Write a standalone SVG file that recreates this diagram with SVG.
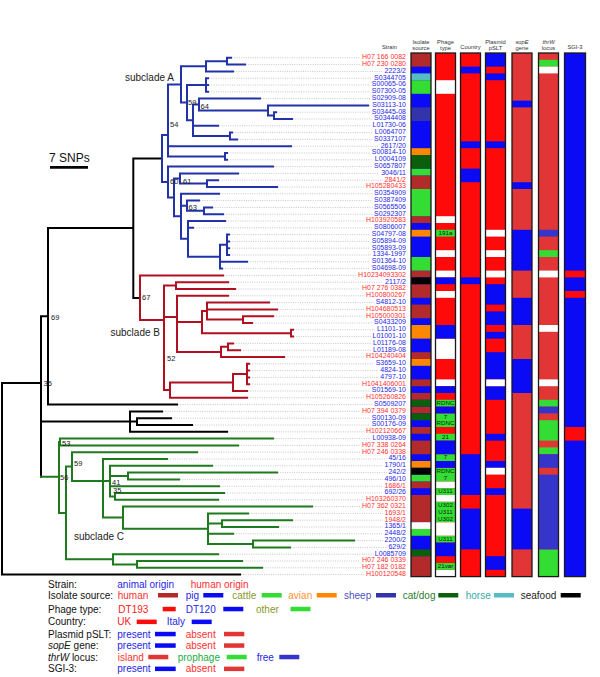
<svg xmlns="http://www.w3.org/2000/svg" width="600" height="677" viewBox="0 0 600 677">
<style>
text{font-family:"Liberation Sans",Arial,sans-serif}
.tr{fill:none;stroke-width:2;stroke-linecap:square}
.ta{stroke:#2233aa}.tb{stroke:#b01020}.tc{stroke:#1d7a1d}.tk{stroke:#000}
.dot{fill:none;stroke:#b8b8b8;stroke-width:0.8;stroke-dasharray:1 1.3}
.sr{fill:#ff3030;font-size:7px}.sb{fill:#2626e6;font-size:7px}
.bs{fill:#222;font-size:7.5px}
.hd{fill:#333;font-size:5.8px;text-anchor:middle}
.pl{fill:#112211;font-size:6.2px;text-anchor:middle}
.lg{font-size:10px}
.hu{fill:#b22a2a}.pg{fill:#0a0af5}.ca{fill:#33dd33}.av{fill:#ff8800}.sh{fill:#3333aa}.cd{fill:#0b5e0b}.ho{fill:#55bcc4}.sf{fill:#000}.wh{fill:#fff}.rd{fill:#ff0a0a}.er{fill:#e23636}.fr{fill:#3535cc}
.ol{fill:none;stroke:#1a1a1a;stroke-width:1.3}
</style>
<rect width="600" height="677" fill="#fff"/>

<g id="connectors">
<path class="dot" d="M232,57.8H360.5M246,64.6H360.5M234,71.4H383M209,78.2H372.6M209,85H370.3M209,91.8H370.3M261,98.6H370.3M369,105.4H370.3M277,112.2H370.3M293,119H372.6M219,125.8H371M233,132.6H373.4M238,139.4H372.6M292,146.2H379.2M228,153H370.3M228,159.8H373.4M274,166.6H372.6M239,173.4H379.2M219,180.2H383M278,187H364.4M220,193.8H372.6M200,200.6H372.6M213,207.4H372.6M224,214.2H372.6M226,221H364.4M194,227.8H372.6M230,234.6H370.3M230,241.4H370.3M230,248.2H370.3M230,255H371M248,261.8H370.3M223,268.6H370.3M224,275.4H356.6M229,282.2H383M236,289H360.5M229,295.8H364.4M270,302.6H374.1M278,309.4H364.4M274,316.2H364.4M253,323H372.6M294,329.8H374.9M294,336.6H371M234,343.4H371M241,350.2H371M285,357H364.4M250,363.8H374.1M250,370.6H378.8M250,377.4H378.8M250,384.2H360.5M248,391H370.3M248,397.8H364.4M178,404.6H372.6M163,411.4H360.5M172,418.2H370.3M193,425H370.3M228,431.8H364.4M274,438.6H371M239,445.4H360.5M198,452.2H360.5M168,459H387M213,465.8H383M278,472.6H387M180,479.4H383M220,486.2H383M225,493H383M219,499.8H364.4M313,506.6H360.5M249,513.4H383M293,520.2H383M279,527H383M234,533.8H383M355,540.6H383M291,547.4H387M219,554.2H373.4M243,561H360.5M263,567.8H360.5M241,574.6H364.4"/>
<path class="tr tk" d="M133.3,158.5V298M133.3,158.5H162M133.3,298H140M48,228V404.6M48,228H133.3M48,404.6H177M41,316.3V476.7M41,316.3H48M41,421.6H130M130,411.4V431.8M130,411.4H162M130,421.6H137M130,431.8H227M137,418.2V425M137,418.2H171M137,425H192M2,383V574.6M2,383H41M2,574.6H240"/>
<path class="tr ta" d="M162,135V182M162,135H168M162,182H168M168,84.5V156.4M168,84.5H181M168,146.2H291M168,156.4H225M225,153V159.8M225,153H227M225,159.8H227M181,66.3V102.6M181,66.3H206M181,102.6H187M206,61.2V71.4M206,61.2H227M206,71.4H233M227,57.8V64.6M227,57.8H231M227,64.6H245M187,85V120.3M187,85H206M187,120.3H193M206,78.2V91.8M206,78.2H208M206,85H208M206,91.8H208M193,104.55V136M193,104.55H199M193,125.8H218M193,136H230M230,132.6V139.4M230,132.6H232M230,139.4H237M199,98.6V110.5M199,98.6H260M199,110.5H268M268,105.4V115.6M268,105.4H368M268,115.6H274M274,112.2V119M274,112.2H276M274,119H292M168,166.6V197.4M168,166.6H273M168,197.4H174M174,178.5V216.3M174,178.5H180M174,216.3H181M180,173.4V183.6M180,173.4H238M180,183.6H207M207,180.2V187M207,180.2H218M207,187H277M181,193.8V238.8M181,193.8H219M181,205.7H187M181,238.8H188M187,200.6V210.8M187,200.6H199M187,210.8H204M204,207.4V214.2M204,207.4H212M204,214.2H223M188,221V256.7M188,221H225M188,227.8H193M188,256.7H220M220,244.8V268.6M220,244.8H227M220,261.8H247M220,268.6H222M227,234.6V255M227,234.6H229M227,241.4H229M227,248.2H229M227,255H229"/>
<path class="tr tb" d="M140,275.4V320M140,275.4H223M140,320H164M164,285.6V390M164,285.6H176M164,317H177M164,390H170M176,282.2V289M176,282.2H228M176,289H235M177,295.8V352M177,295.8H228M177,322H202M177,352H221M202,311V333.2M202,311H207M202,333.2H291M207,302.6V319.6M207,302.6H269M207,309.4H277M207,319.6H243M243,316.2V323M243,316.2H273M243,323H252M291,329.8V336.6M291,329.8H293M291,336.6H293M221,346.8V357M221,346.8H228M221,357H284M228,343.4V350.2M228,343.4H233M228,350.2H240M170,382.5V397.8M170,382.5H233M170,397.8H247M233,374V391M233,374H247M233,391H247M247,363.8V384.2M247,363.8H249M247,370.6H249M247,377.4H249M247,384.2H249"/>
<path class="tr tc" d="M41,476.7H59M59,442V513M59,442H60M59,513H66M60,438.6V445.4M60,438.6H273M60,445.4H238M66,466.6V559.3M66,466.6H72M66,559.3H113M72,452.2V481M72,452.2H197M72,481H103M103,459V517.6M103,459H167M103,481H110M103,517.6H123M110,465.8V496.4M110,465.8H212M110,476H128M110,486.2H219M110,496.4H115M128,472.6V479.4M128,472.6H277M128,479.4H179M115,493V499.8M115,493H224M115,499.8H218M123,506.6V528.7M123,506.6H312M123,528.7H208M208,513.4V544M208,513.4H248M208,523.6H222M208,533.8H233M208,544H253M222,520.2V527M222,520.2H292M222,527H278M253,540.6V547.4M253,540.6H354M253,547.4H290M113,554.2V564.4M113,554.2H218M113,564.4H137M137,561V567.8M137,561H242M137,567.8H262"/>
</g>

<g id="tree-labels">
<text class="lg" x="125" y="80.5" fill="#222">subclade A</text>
<text class="lg" x="110.5" y="335.5" fill="#222">subclade B</text>
<text class="lg" x="74" y="540" fill="#222">subclade C</text>
<text class="bs" x="188" y="105">59</text>
<text class="bs" x="200.5" y="108.5">64</text>
<text class="bs" x="170" y="126.5">54</text>
<text class="bs" x="170" y="183.5">60</text>
<text class="bs" x="183" y="183.5">61</text>
<text class="bs" x="188.5" y="210">63</text>
<text class="bs" x="142" y="300">67</text>
<text class="bs" x="51" y="320">69</text>
<text class="bs" x="167" y="361">52</text>
<text class="bs" x="43.5" y="386">35</text>
<text class="bs" x="62" y="446">53</text>
<text class="bs" x="74" y="466">59</text>
<text class="bs" x="60" y="479.5">56</text>
<text class="bs" x="112" y="485">41</text>
<text class="bs" x="113" y="492.5">35</text>
</g>

<g id="scale-bar">
<text x="49" y="162" font-size="12" fill="#111">7 SNPs</text>
<line x1="50" y1="167.3" x2="88" y2="167.3" stroke="#000" stroke-width="2.7"/>
</g>

<g id="headers">
<text class="hd" x="389.5" y="48.8">Strain</text>
<text class="hd" x="421" y="44.3">Isolate</text><text class="hd" x="421" y="49.5">source</text>
<text class="hd" x="445.5" y="44.3">Phage</text><text class="hd" x="445.5" y="49.5">type</text>
<text class="hd" x="470.5" y="48.8">Country</text>
<text class="hd" x="495.5" y="44.3">Plasmid</text><text class="hd" x="495.5" y="49.5">pSLT</text>
<text class="hd" x="522" y="44.3" font-style="italic">sopE</text><text class="hd" x="522" y="49.5">gene</text>
<text class="hd" x="548.5" y="44.3" font-style="italic">thrW</text><text class="hd" x="548.5" y="49.5">locus</text>
<text class="hd" x="575" y="48.8">SGI-3</text>
</g>

<g id="strains" text-anchor="end">
<text class="sr" x="406" y="59.1">H07 166 0082</text>
<text class="sr" x="406" y="65.9">H07 230 0280</text>
<text class="sb" x="406" y="72.7">2223/2</text>
<text class="sb" x="406" y="79.5">S0344705</text>
<text class="sb" x="406" y="86.3">S00065-06</text>
<text class="sb" x="406" y="93.1">S07300-05</text>
<text class="sb" x="406" y="99.9">S02909-08</text>
<text class="sb" x="406" y="106.7">S03113-10</text>
<text class="sb" x="406" y="113.5">S03445-08</text>
<text class="sb" x="406" y="120.3">S0344408</text>
<text class="sb" x="406" y="127.1">L01730-06</text>
<text class="sb" x="406" y="133.9">L0064707</text>
<text class="sb" x="406" y="140.7">S0337107</text>
<text class="sb" x="406" y="147.5">2617/20</text>
<text class="sb" x="406" y="154.3">S00814-10</text>
<text class="sb" x="406" y="161.1">L0004109</text>
<text class="sb" x="406" y="167.9">S0657807</text>
<text class="sb" x="406" y="174.7">3046/11</text>
<text class="sr" x="406" y="181.5">2841/2</text>
<text class="sr" x="406" y="188.3">H105280433</text>
<text class="sb" x="406" y="195.1">S0354909</text>
<text class="sb" x="406" y="201.9">S0387409</text>
<text class="sb" x="406" y="208.7">S0565506</text>
<text class="sb" x="406" y="215.5">S0292307</text>
<text class="sr" x="406" y="222.3">H103920583</text>
<text class="sb" x="406" y="229.1">S0806007</text>
<text class="sb" x="406" y="235.9">S04797-08</text>
<text class="sb" x="406" y="242.7">S05894-09</text>
<text class="sb" x="406" y="249.5">S05893-09</text>
<text class="sb" x="406" y="256.3">1334-1997</text>
<text class="sb" x="406" y="263.1">S01364-10</text>
<text class="sb" x="406" y="269.9">S04698-09</text>
<text class="sr" x="406" y="276.7">H10234093302</text>
<text class="sb" x="406" y="283.5">2117/2</text>
<text class="sr" x="406" y="290.3">H07 276 0382</text>
<text class="sr" x="406" y="297.1">H100800267</text>
<text class="sb" x="406" y="303.9">S4812-10</text>
<text class="sr" x="406" y="310.7">H104680513</text>
<text class="sr" x="406" y="317.5">H105000301</text>
<text class="sb" x="406" y="324.3">S0433209</text>
<text class="sb" x="406" y="331.1">L1101-10</text>
<text class="sb" x="406" y="337.9">L01001-10</text>
<text class="sb" x="406" y="344.7">L01176-08</text>
<text class="sb" x="406" y="351.5">L01189-08</text>
<text class="sr" x="406" y="358.3">H104240404</text>
<text class="sb" x="406" y="365.1">S3659-10</text>
<text class="sb" x="406" y="371.9">4824-10</text>
<text class="sb" x="406" y="378.7">4797-10</text>
<text class="sr" x="406" y="385.5">H1041406001</text>
<text class="sb" x="406" y="392.3">S01569-10</text>
<text class="sr" x="406" y="399.1">H105260826</text>
<text class="sb" x="406" y="405.9">S0509207</text>
<text class="sr" x="406" y="412.7">H07 394 0379</text>
<text class="sb" x="406" y="419.5">S00130-09</text>
<text class="sb" x="406" y="426.3">S00176-09</text>
<text class="sr" x="406" y="433.1">H102120667</text>
<text class="sb" x="406" y="439.9">L00938-09</text>
<text class="sr" x="406" y="446.7">H07 338 0264</text>
<text class="sr" x="406" y="453.5">H07 246 0338</text>
<text class="sb" x="406" y="460.3">45/16</text>
<text class="sb" x="406" y="467.1">1790/1</text>
<text class="sb" x="406" y="473.9">242/2</text>
<text class="sb" x="406" y="480.7">496/10</text>
<text class="sr" x="406" y="487.5">1686/1</text>
<text class="sb" x="406" y="494.3">692/26</text>
<text class="sr" x="406" y="501.1">H103260370</text>
<text class="sr" x="406" y="507.9">H07 362 0321</text>
<text class="sr" x="406" y="514.7">1693/1</text>
<text class="sr" x="406" y="521.5">1948/2</text>
<text class="sb" x="406" y="528.3">1365/1</text>
<text class="sb" x="406" y="535.1">2448/2</text>
<text class="sb" x="406" y="541.9">2200/2</text>
<text class="sb" x="406" y="548.7">629/2</text>
<text class="sb" x="406" y="555.5">L0085709</text>
<text class="sr" x="406" y="562.3">H07 246 0339</text>
<text class="sr" x="406" y="569.1">H07 182 0182</text>
<text class="sr" x="406" y="575.9">H100120548</text>
</g>

<g id="col-isolate">
<g transform="translate(411,53) scale(1,6.8)">
<rect class="pg" x="0" y="0" width="20" height="77"/>
<rect class="hu" x="0" y="0" width="20" height="2"/><rect class="hu" x="0" y="18" width="20" height="2"/><rect class="hu" x="0" y="24" width="20" height="1"/><rect class="hu" x="0" y="32" width="20" height="1"/><rect class="hu" x="0" y="34" width="20" height="2"/><rect class="hu" x="0" y="37" width="20" height="2"/><rect class="hu" x="0" y="44" width="20" height="1"/><rect class="hu" x="0" y="48" width="20" height="1"/><rect class="hu" x="0" y="50" width="20" height="1"/><rect class="hu" x="0" y="52" width="20" height="1"/><rect class="hu" x="0" y="55" width="20" height="1"/><rect class="hu" x="0" y="57" width="20" height="2"/><rect class="hu" x="0" y="63" width="20" height="1"/><rect class="hu" x="0" y="65" width="20" height="4"/><rect class="hu" x="0" y="74" width="20" height="3"/>
<rect class="ho" x="0" y="3" width="20" height="1"/>
<rect class="ca" x="0" y="4" width="20" height="2"/><rect class="ca" x="0" y="17" width="20" height="1"/><rect class="ca" x="0" y="20" width="20" height="4"/><rect class="ca" x="0" y="30" width="20" height="2"/><rect class="ca" x="0" y="62" width="20" height="1"/><rect class="ca" x="0" y="70" width="20" height="1"/>
<rect class="sh" x="0" y="8" width="20" height="2"/>
<rect class="av" x="0" y="14" width="20" height="1"/><rect class="av" x="0" y="26" width="20" height="1"/><rect class="av" x="0" y="40" width="20" height="2"/><rect class="av" x="0" y="45" width="20" height="1"/><rect class="av" x="0" y="60" width="20" height="1"/>
<rect class="cd" x="0" y="15" width="20" height="2"/><rect class="cd" x="0" y="51" width="20" height="1"/><rect class="cd" x="0" y="53" width="20" height="1"/><rect class="cd" x="0" y="73" width="20" height="1"/>
<rect class="sf" x="0" y="33" width="20" height="1"/><rect class="sf" x="0" y="61" width="20" height="1"/>
<rect class="wh" x="0" y="69" width="20" height="1"/>
</g>
<rect class="ol" x="411" y="53" width="20" height="523.6"/>
</g>

<g id="col-phage">
<g transform="translate(435.5,53) scale(1,6.8)">
<rect class="rd" x="0" y="0" width="20" height="77"/>
<rect class="wh" x="0" y="4" width="20" height="2"/><rect class="wh" x="0" y="24" width="20" height="1"/><rect class="wh" x="0" y="29" width="20" height="1"/><rect class="wh" x="0" y="32" width="20" height="1"/><rect class="wh" x="0" y="35" width="20" height="1"/><rect class="wh" x="0" y="42" width="20" height="3"/><rect class="wh" x="0" y="48" width="20" height="1"/><rect class="wh" x="0" y="63" width="20" height="1"/><rect class="wh" x="0" y="65" width="20" height="1"/><rect class="wh" x="0" y="69" width="20" height="2"/><rect class="wh" x="0" y="76" width="20" height="1"/>
<rect class="ca" x="0" y="26" width="20" height="1"/><rect class="ca" x="0" y="51" width="20" height="1"/><rect class="ca" x="0" y="53" width="20" height="2"/><rect class="ca" x="0" y="56" width="20" height="1"/><rect class="ca" x="0" y="59" width="20" height="1"/><rect class="ca" x="0" y="61" width="20" height="2"/><rect class="ca" x="0" y="64" width="20" height="1"/><rect class="ca" x="0" y="66" width="20" height="3"/><rect class="ca" x="0" y="71" width="20" height="1"/><rect class="ca" x="0" y="75" width="20" height="1"/>
<rect class="pg" x="0" y="33" width="20" height="1"/><rect class="pg" x="0" y="40" width="20" height="2"/><rect class="pg" x="0" y="49" width="20" height="1"/><rect class="pg" x="0" y="52" width="20" height="1"/><rect class="pg" x="0" y="57" width="20" height="2"/><rect class="pg" x="0" y="60" width="20" height="1"/><rect class="pg" x="0" y="72" width="20" height="2"/>
</g>
<text class="pl" x="445.5" y="235">191a</text>
<text class="pl" x="445.5" y="405">RDNC</text>
<text class="pl" x="445.5" y="418.6">7</text>
<text class="pl" x="445.5" y="425.4">RDNC</text>
<text class="pl" x="445.5" y="439">21</text>
<text class="pl" x="445.5" y="459.4">7</text>
<text class="pl" x="445.5" y="473">RDNC</text>
<text class="pl" x="445.5" y="479.8">7</text>
<text class="pl" x="445.5" y="493.4">U311</text>
<text class="pl" x="445.5" y="507">U302</text>
<text class="pl" x="445.5" y="513.8">U311</text>
<text class="pl" x="445.5" y="520.6">U302</text>
<text class="pl" x="445.5" y="541">U311</text>
<text class="pl" x="445.5" y="568.2">21var</text>
<rect class="ol" x="435.5" y="53" width="20" height="523.6"/>
</g>

<g id="col-country">
<g transform="translate(460.5,53) scale(1,6.8)">
<rect class="rd" x="0" y="0" width="20" height="77"/>
<rect class="pg" x="0" y="2" width="20" height="1"/><rect class="pg" x="0" y="13" width="20" height="1"/><rect class="pg" x="0" y="17" width="20" height="2"/><rect class="pg" x="0" y="33" width="20" height="1"/><rect class="pg" x="0" y="59" width="20" height="6"/><rect class="pg" x="0" y="67" width="20" height="6"/>
</g>
<rect class="ol" x="460.5" y="53" width="20" height="523.6"/>
</g>

<g id="col-plasmid">
<g transform="translate(485.5,53) scale(1,6.8)">
<rect class="rd" x="0" y="0" width="20" height="77"/>
<rect class="pg" x="0" y="0" width="20" height="2"/><rect class="pg" x="0" y="3" width="20" height="1"/><rect class="pg" x="0" y="13" width="20" height="1"/><rect class="pg" x="0" y="34" width="20" height="3"/><rect class="pg" x="0" y="38" width="20" height="2"/><rect class="pg" x="0" y="41" width="20" height="1"/><rect class="pg" x="0" y="44" width="20" height="4"/><rect class="pg" x="0" y="49" width="20" height="2"/><rect class="pg" x="0" y="56" width="20" height="1"/><rect class="pg" x="0" y="60" width="20" height="1"/><rect class="pg" x="0" y="64" width="20" height="1"/><rect class="pg" x="0" y="74" width="20" height="2"/>
<rect class="wh" x="0" y="26" width="20" height="1"/><rect class="wh" x="0" y="29" width="20" height="1"/><rect class="wh" x="0" y="32" width="20" height="1"/><rect class="wh" x="0" y="48" width="20" height="1"/><rect class="wh" x="0" y="61" width="20" height="1"/>
</g>
<rect class="ol" x="485.5" y="53" width="20" height="523.6"/>
</g>

<g id="col-sopE">
<g transform="translate(512,53) scale(1,6.8)">
<rect class="er" x="0" y="0" width="20" height="77"/>
<rect class="pg" x="0" y="7" width="20" height="1"/><rect class="pg" x="0" y="19" width="20" height="1"/><rect class="pg" x="0" y="26" width="20" height="6"/><rect class="pg" x="0" y="36" width="20" height="4"/><rect class="pg" x="0" y="45" width="20" height="5"/><rect class="pg" x="0" y="67" width="20" height="6"/>
</g>
<rect class="ol" x="512" y="53" width="20" height="523.6"/>
</g>

<g id="col-thrW">
<g transform="translate(538.5,53) scale(1,6.8)">
<rect class="er" x="0" y="0" width="20" height="77"/>
<rect class="ca" x="0" y="1" width="20" height="1"/><rect class="ca" x="0" y="29" width="20" height="1"/><rect class="ca" x="0" y="51" width="20" height="1"/><rect class="ca" x="0" y="54" width="20" height="3"/><rect class="ca" x="0" y="58" width="20" height="1"/><rect class="ca" x="0" y="73" width="20" height="4"/>
<rect class="wh" x="0" y="2" width="20" height="1"/><rect class="wh" x="0" y="32" width="20" height="1"/><rect class="wh" x="0" y="40" width="20" height="1"/><rect class="wh" x="0" y="48" width="20" height="1"/>
<rect class="fr" x="0" y="26" width="20" height="1"/><rect class="fr" x="0" y="52" width="20" height="1"/><rect class="fr" x="0" y="59" width="20" height="2"/><rect class="fr" x="0" y="62" width="20" height="11"/>
</g>
<rect class="ol" x="538.5" y="53" width="20" height="523.6"/>
</g>

<g id="col-SGI3">
<g transform="translate(564.5,53) scale(1,6.8)">
<rect class="pg" x="0" y="0" width="21" height="77"/>
<rect class="rd" x="0" y="32" width="21" height="1"/><rect class="rd" x="0" y="35" width="21" height="1"/><rect class="rd" x="0" y="55" width="21" height="2"/>
</g>
<rect class="ol" x="564.5" y="53" width="21" height="523.6"/>
</g>

<g id="legend" class="lg">
<text x="48" y="587.5" fill="#111">Strain:</text>
<text x="117.3" y="587.5" fill="#2626e6">animal origin</text>
<text x="190.7" y="587.5" fill="#ff3030">human origin</text>

<text x="48" y="598.8" fill="#111">Isolate source:</text>
<text x="117.7" y="598.8" fill="#ff3030">human</text><rect class="hu" x="158" y="593" width="20" height="4.5"/>
<text x="185.7" y="598.8" fill="#2626e6">pig</text><rect class="pg" x="203.3" y="593" width="20" height="4.5"/>
<text x="232.3" y="598.8" fill="#8a9a2a">cattle</text><rect class="ca" x="261.7" y="593" width="20" height="4.5"/>
<text x="288.3" y="598.8" fill="#ff9430">avian</text><rect class="av" x="316.7" y="593" width="20" height="4.5"/>
<text x="344" y="598.8" fill="#5050c0">sheep</text><rect class="sh" x="376" y="593" width="20" height="4.5"/>
<text x="402.7" y="598.8" fill="#2d7d2d">cat/dog</text><rect class="cd" x="438.3" y="593" width="20" height="4.5"/>
<text x="465.7" y="598.8" fill="#36aaaa">horse</text><rect class="ho" x="494" y="593" width="20" height="4.5"/>
<text x="520.7" y="598.8" fill="#222">seafood</text><rect class="sf" x="560.7" y="593" width="20" height="4.5"/>

<text x="48" y="612.5" fill="#111">Phage type:</text>
<text x="118.3" y="612.5" fill="#ff2020">DT193</text><rect class="rd" x="162.7" y="606.8" width="13" height="4.5"/>
<text x="185.7" y="612.5" fill="#2626e6">DT120</text><rect class="pg" x="223.3" y="606.8" width="20" height="4.5"/>
<text x="256" y="612.5" fill="#8a9a2a">other</text><rect class="ca" x="290.5" y="606.8" width="20" height="4.5"/>

<text x="48" y="625.3" fill="#111">Country:</text>
<text x="117.3" y="625.3" fill="#ff2020">UK</text><rect class="rd" x="136.7" y="619.6" width="20" height="4.5"/>
<text x="166.7" y="625.3" fill="#2626e6">Italy</text><rect class="pg" x="191.7" y="619.6" width="20" height="4.5"/>

<text x="48" y="637.5" fill="#111">Plasmid pSLT:</text>
<text x="117.3" y="637.5" fill="#2626e6">present</text><rect class="pg" x="155" y="631.8" width="20.7" height="4.5"/>
<text x="185.7" y="637.5" fill="#ff3030">absent</text><rect class="er" x="224" y="631.8" width="20.3" height="4.5"/>

<text x="48" y="649" fill="#111"><tspan font-style="italic">sopE</tspan> gene:</text>
<text x="117.3" y="649" fill="#2626e6">present</text><rect class="pg" x="155" y="643.3" width="20.7" height="4.5"/>
<text x="185.7" y="649" fill="#ff3030">absent</text><rect class="er" x="224" y="643.3" width="20.3" height="4.5"/>

<text x="48" y="660.5" fill="#111"><tspan font-style="italic">thrW</tspan> locus:</text>
<text x="117.7" y="660.5" fill="#ff3030">island</text><rect class="er" x="148.3" y="654.8" width="20" height="4.5"/>
<text x="177.7" y="660.5" fill="#22aa44">prophage</text><rect class="ca" x="226.7" y="654.8" width="20" height="4.5"/>
<text x="256.7" y="660.5" fill="#2626e6">free</text><rect class="fr" x="279.3" y="654.8" width="20" height="4.5"/>

<text x="48" y="672.3" fill="#111">SGI-3:</text>
<text x="117.3" y="672.3" fill="#2626e6">present</text><rect class="pg" x="155" y="666.6" width="20.7" height="4.5"/>
<text x="185.7" y="672.3" fill="#ff3030">absent</text><rect class="er" x="224" y="666.6" width="20.3" height="4.5"/>
</g>
</svg>
